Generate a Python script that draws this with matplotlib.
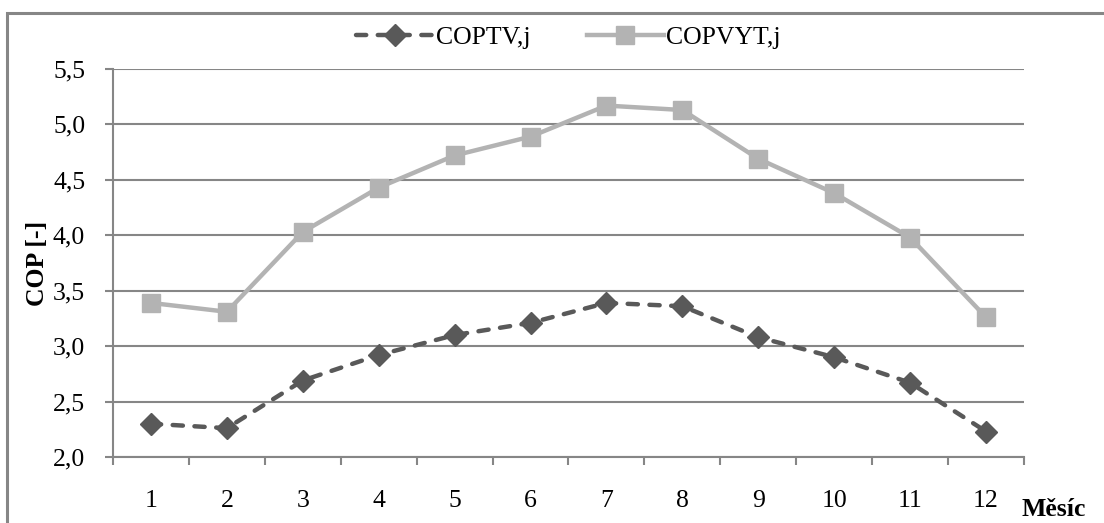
import matplotlib.pyplot as plt
from matplotlib.patches import Rectangle
from matplotlib.ticker import FuncFormatter

plt.rcParams['font.family'] = ['Liberation Serif', 'DejaVu Serif']

mesice = [1, 2, 3, 4, 5, 6, 7, 8, 9, 10, 11, 12]
cop_tv = [2.30, 2.26, 2.69, 2.92, 3.10, 3.21, 3.39, 3.36, 3.08, 2.90, 2.67, 2.23]
cop_vyt = [3.39, 3.31, 4.03, 4.43, 4.72, 4.89, 5.17, 5.13, 4.69, 4.38, 3.98, 3.26]

grey = '#868686'
fs = 18.5

fig = plt.figure(figsize=(11.04, 5.23), dpi=100)
ax = fig.add_axes([113/1104, 1-457/523, (1024-113)/1104, (457-69)/523])

# ramecek kolem grafu
fig.patches.append(Rectangle((7/1104, -0.1), 1.2, 1 - 13/523 + 0.1, transform=fig.transFigure,
                             fill=False, edgecolor=grey, linewidth=2.2))

ax.plot(mesice, cop_tv, color='#595959', linestyle=(0, (2.3, 2.6)), linewidth=3.2,
        dash_capstyle='round', marker='D', markersize=11.5, label='COPTV,j')
ax.plot(mesice, cop_vyt, color='#b3b3b3', linestyle='-', linewidth=3.2,
        marker='s', markersize=13.5, label='COPVYT,j')

ax.set_xlim(0.5, 12.5)
ax.set_ylim(2.0, 5.5)
ax.set_yticks([2.0, 2.5, 3.0, 3.5, 4.0, 4.5, 5.0, 5.5])
ax.yaxis.set_major_formatter(FuncFormatter(lambda v, p: f'{v:.1f}'.replace('.', ',')))
ax.set_xticks(mesice)
ax.set_xticks([m - 0.5 for m in mesice] + [12.5], minor=True)
ax.tick_params(axis='x', which='major', length=0, pad=24, labelsize=fs)
ax.tick_params(axis='x', which='minor', length=6, width=1.5, color=grey, direction='out')
ax.tick_params(axis='y', length=6, width=1.5, color=grey, direction='out', labelsize=fs, pad=14)

ax.grid(axis='y', color=grey, linewidth=1.5)
ax.set_axisbelow(True)
for s in ['top', 'right']:
    ax.spines[s].set_visible(False)
for s in ['left', 'bottom']:
    ax.spines[s].set_color(grey)
    ax.spines[s].set_linewidth(1.5)

ax.set_ylabel('COP [-]', fontsize=fs, fontweight='bold', labelpad=3)
fig.text(1022/1104, 1-510/523, 'Měsíc', fontsize=fs, fontweight='bold', va='center', ha='left')

ax.legend(loc='upper center', bbox_to_anchor=(0.5, 1.17), ncol=2, frameon=False,
          fontsize=fs, handlelength=3.0, columnspacing=2.2, handletextpad=0.1)

fig.savefig('out.png', dpi=100)
